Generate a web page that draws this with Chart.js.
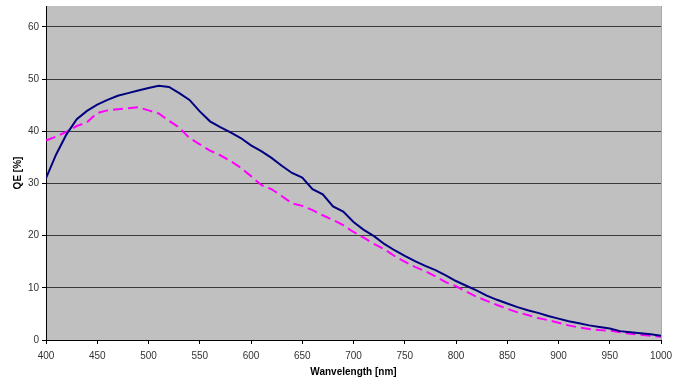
<!DOCTYPE html>
<html>
<head>
<meta charset="utf-8">
<script src="https://cdn.jsdelivr.net/npm/chart.js@4.4.0/dist/chart.umd.min.js"></script>
<style>
  html, body { margin: 0; padding: 0; background: #fff; }
  #wrap { width: 683px; height: 378px; }
</style>
</head>
<body>
<div id="wrap"><canvas id="qeChart" width="683" height="378"></canvas></div>
<script>
// wavelength in nm, 10 nm steps
const wavelengths = [400,410,420,430,440,450,460,470,480,490,500,510,520,530,540,550,560,570,580,590,
  600,610,620,630,640,650,660,670,680,690,700,710,720,730,740,750,760,770,780,790,
  800,810,820,830,840,850,860,870,880,890,900,910,920,930,940,950,960,970,980,990,1000];

// QE [%]
const qeSolid = [31.0,35.6,39.4,42.3,43.9,45.1,46.0,46.8,47.3,47.8,48.3,48.7,48.5,47.3,46.0,43.8,41.9,40.8,39.8,38.7,
  37.3,36.2,34.9,33.4,32.0,31.1,28.9,27.9,25.6,24.6,22.6,21.1,19.9,18.4,17.2,16.1,15.1,14.2,13.4,12.4,
  11.3,10.4,9.5,8.5,7.7,7.0,6.3,5.7,5.2,4.6,4.1,3.6,3.2,2.8,2.5,2.2,1.7,1.5,1.3,1.1,0.8];

const qeDashed = [38.2,39.0,39.9,41.0,41.7,43.5,44.0,44.2,44.4,44.6,44.0,43.4,42.0,40.7,38.7,37.5,36.3,35.4,34.3,33.0,
  31.4,29.7,28.9,27.6,26.2,25.7,24.9,23.9,23.0,22.0,20.7,19.6,18.4,17.4,16.1,15.0,14.0,13.2,12.2,11.1,
  10.3,9.3,8.3,7.5,6.7,6.0,5.3,4.8,4.2,3.8,3.3,2.8,2.4,2.1,1.9,1.8,1.5,1.2,1.0,0.8,0.6];

const xTicks = [400,450,500,550,600,650,700,750,800,850,900,950,1000];
const yTicks = [0,10,20,30,40,50,60];

const FONT = "Arial, 'Liberation Sans', sans-serif";

const plotBg = {
  id: 'plotBg',
  beforeDraw(chart) {
    const a = chart.chartArea;
    const ctx = chart.ctx;
    ctx.save();
    ctx.fillStyle = '#c0c0c0';
    ctx.fillRect(a.left, a.top, a.right - a.left, a.bottom - a.top);
    ctx.strokeStyle = '#a8a8a8';
    ctx.lineWidth = 1;
    ctx.beginPath();
    ctx.moveTo(a.right + 0.5, a.top);
    ctx.lineTo(a.right + 0.5, a.bottom);
    ctx.stroke();
    ctx.restore();
  }
};

const toXY = arr => arr.map((v, i) => ({ x: wavelengths[i], y: v }));

new Chart(document.getElementById('qeChart'), {
  type: 'line',
  data: {
    datasets: [{
      label: 'solid',
      data: toXY(qeSolid),
      borderColor: '#000080',
      borderWidth: 2,
      pointRadius: 0,
      fill: false
    }, {
      label: 'dashed',
      data: toXY(qeDashed),
      borderColor: '#ff00ff',
      borderWidth: 2,
      borderDash: [10, 5],
      pointRadius: 0,
      fill: false
    }]
  },
  options: {
    responsive: false,
    animation: false,
    layout: { padding: { top: 6, right: 22, left: 0, bottom: 0 } },
    plugins: { legend: { display: false }, tooltip: { enabled: false } },
    scales: {
      x: {
        type: 'linear',
        min: 400,
        max: 1000,
        afterBuildTicks: s => { s.ticks = xTicks.map(v => ({ value: v })); },
        afterFit: s => { s.height = 38; },
        grid: { drawOnChartArea: false, color: '#000', tickLength: 4, tickColor: '#000' },
        border: { color: '#000', width: 1 },
        ticks: { color: '#333', font: { family: FONT, size: 10 }, padding: 6, maxRotation: 0, callback: v => String(v) },
        title: { display: true, text: 'Wanvelength [nm]', color: '#000', font: { family: FONT, size: 10, weight: 'bold' }, padding: { top: 0, bottom: 0 } }
      },
      y: {
        min: 0,
        max: 64,
        afterBuildTicks: s => { s.ticks = yTicks.map(v => ({ value: v })); },
        afterFit: s => { s.width = 46; s.paddingTop = 0; s.paddingBottom = 0; },
        grid: { color: '#3a3a3a', tickLength: 4, tickColor: '#000' },
        border: { color: '#000', width: 1 },
        ticks: { color: '#333', font: { family: FONT, size: 10 }, padding: 3, callback: v => String(v) },
        title: { display: true, text: 'QE [%]', color: '#000', font: { family: FONT, size: 10, weight: 'bold' }, padding: { top: 12, bottom: 0 } }
      }
    }
  },
  plugins: [plotBg]
});
</script>
</body>
</html>
